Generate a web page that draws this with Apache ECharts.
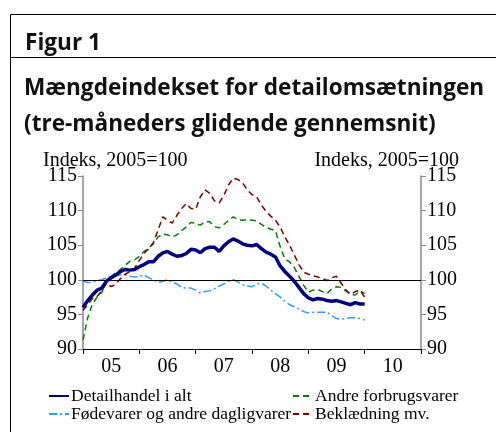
<!DOCTYPE html>
<html>
<head>
    <meta charset="utf-8">
    <title>Figur 1</title>
    <script src="https://cdn.jsdelivr.net/npm/echarts@6/dist/echarts.min.js"></script>
    <style>
        html, body { margin: 0; padding: 0; background: #fff; }
        #chart { width: 496px; height: 432px; }
    </style>
</head>
<body>
    <div id="chart"></div>

    <script>
    // månedlige værdier, jan 2005 - jan 2010
    const yearLabels = ['05', '06', '07', '08', '09', '10'];
    const yTicks = [90, 95, 100, 105, 110, 115];

    const detailhandel = [
        96.0, 97.0, 97.8, 98.5, 98.8, 99.8, 100.3, 100.7, 101.2, 101.5, 101.4, 101.5,
        101.9, 102.2, 102.6, 102.6, 103.4, 103.9, 104.1, 103.7, 103.4, 103.5, 103.8, 104.4,
        104.3, 103.9, 104.5, 104.7, 104.7, 104.1, 104.9, 105.5, 105.9, 105.6, 105.2, 105.0,
        104.9, 105.1, 104.5, 104.0, 103.7, 103.3, 102.0, 101.2, 100.5, 99.8, 98.9, 98.0,
        97.4, 97.1, 97.3, 97.2, 97.0, 96.9, 97.0, 96.8, 96.6, 96.4, 96.7, 96.5,
        96.5
    ];
    const andre = [
        91.3, 94.5, 96.5, 97.5, 98.2, 99.8, 100.5, 101.0, 101.5, 102.1, 102.7, 102.9,
        103.4, 104.1, 104.6, 105.2, 106.2, 106.6, 106.5, 106.2, 106.5, 107.1, 107.6, 108.3,
        108.1, 107.9, 108.4, 108.4, 107.7, 107.5, 108.0, 108.6, 109.1, 108.7, 108.6, 108.7,
        108.6, 108.5, 108.0, 107.6, 107.3, 107.1, 104.8, 103.0, 102.6, 101.8, 100.5, 99.2,
        98.2, 98.5, 98.6, 98.3, 98.0, 98.7, 99.0, 98.9, 98.4, 97.9, 97.8, 98.4,
        98.0
    ];
    const foedevarer = [
        99.8, 99.6, 99.6, 99.9, 100.0, 100.3, 100.5, 100.6, 100.7, 100.7, 100.5, 100.4,
        100.5, 100.7, 100.3, 100.0, 99.6, 99.8, 100.0, 99.7, 99.4, 98.9, 98.8, 98.8,
        98.5, 98.1, 98.3, 98.4, 98.7, 99.1, 99.4, 99.8, 100.0, 99.7, 99.3, 99.1,
        99.0, 99.4, 99.5, 99.1, 98.5, 98.0, 97.5, 96.9, 96.4, 96.1, 95.8, 95.4,
        95.2, 95.3, 95.3, 95.3, 95.3, 94.8, 94.4, 94.3, 94.4, 94.5, 94.5, 94.4,
        94.2
    ];
    const beklaedning = [
        95.6, 96.4, 97.3, 97.6, 98.4, 99.5, 99.0, 99.4, 100.2, 100.8, 101.2, 101.7,
        102.8, 103.8, 104.5, 105.4, 107.2, 109.1, 108.6, 108.2, 109.3, 110.3, 111.0, 110.3,
        110.2, 112.0, 113.0, 112.5, 111.4, 111.1, 112.2, 113.7, 114.7, 114.5, 114.0, 113.0,
        112.3, 112.0, 110.8, 109.9, 109.2, 108.6, 107.6, 106.2, 105.0, 103.6, 102.2, 101.1,
        100.8, 100.6, 100.4, 100.2, 99.9, 100.3, 100.5, 99.5, 98.5, 97.9, 98.3, 98.5,
        97.5
    ];

    // [måned, værdi]
    function pairs(arr) {
        return arr.map((v, i) => [i, v]);
    }

    const serif = 'Liberation Serif';
    const sans = 'Open Sans';
    const headStyle = { fontFamily: sans, fontWeight: 'bold', fontSize: 22.6, color: '#111' };
    const axisText = { fontFamily: serif, fontWeight: 'normal', fontSize: 20, color: '#000' };
    const legendBase = {
        orient: 'vertical', top: 382, itemGap: 0,
        itemWidth: 20, itemHeight: 10,
        itemStyle: { opacity: 0 },
        textStyle: { fontFamily: serif, fontSize: 17.5, lineHeight: 18, color: '#000', padding: [0, 0, 0, -3] }
    };

    const chart = echarts.init(document.getElementById('chart'));

    chart.setOption({
        animation: false,
        title: [
            { text: 'Figur 1', left: 20, top: 27, textStyle: headStyle },
            { text: 'Mængdeindekset for detailomsætningen', left: 19, top: 72, textStyle: headStyle },
            { text: '(tre-måneders glidende gennemsnit)', left: 19, top: 108, textStyle: headStyle },
            { text: 'Indeks, 2005=100', left: 38, top: 146, textStyle: axisText },
            { text: 'Indeks, 2005=100', right: 32, top: 146, textStyle: axisText }
        ],
        graphic: [
            { type: 'line', shape: { x1: 10.5, y1: 14.5, x2: 496, y2: 14.5 }, style: { stroke: '#000', lineWidth: 1 } },
            { type: 'line', shape: { x1: 10.5, y1: 14.5, x2: 10.5, y2: 432 }, style: { stroke: '#000', lineWidth: 1 } },
            { type: 'line', shape: { x1: 10.5, y1: 57.5, x2: 496, y2: 57.5 }, style: { stroke: '#000', lineWidth: 1 } }
        ],
        legend: [
            Object.assign({}, legendBase, {
                data: ['Detailhandel i alt', 'Fødevarer og andre dagligvarer'], left: 43
            }),
            Object.assign({}, legendBase, {
                data: ['Andre forbrugsvarer', 'Beklædning mv.'], left: 287
            })
        ],
        grid: { left: 83, right: 75, top: 176, bottom: 83, containLabel: false },
        xAxis: [
            {
                type: 'value', min: 0, max: 72, interval: 12,
                axisLine: { lineStyle: { color: '#000', width: 1 } },
                axisTick: { length: 5, lineStyle: { color: '#000' } },
                axisLabel: { show: false },
                splitLine: { show: false }
            },
            {
                type: 'category', data: yearLabels, position: 'bottom',
                boundaryGap: true,
                axisLine: { show: false },
                axisTick: { show: false },
                axisLabel: Object.assign({ margin: 8 }, axisText)
            }
        ],
        yAxis: [
            {
                type: 'value', min: yTicks[0], max: yTicks[yTicks.length - 1], interval: 5,
                axisLine: { show: true, lineStyle: { color: '#888', width: 1.5 } },
                axisTick: { show: true, length: 5, lineStyle: { color: '#888' } },
                axisLabel: Object.assign({ margin: 6 }, axisText),
                splitLine: { show: false }
            },
            {
                type: 'value', min: yTicks[0], max: yTicks[yTicks.length - 1], interval: 5,
                position: 'right',
                axisLine: { show: true, lineStyle: { color: '#888', width: 1.5 } },
                axisTick: { show: true, length: 5, lineStyle: { color: '#888' } },
                axisLabel: Object.assign({ margin: 6 }, axisText),
                splitLine: { show: false }
            }
        ],
        series: [
            {
                name: 'Detailhandel i alt', type: 'line', data: pairs(detailhandel),
                showSymbol: false, symbol: 'none', z: 5,
                lineStyle: { color: '#000080', width: 3.5 },
                itemStyle: { color: '#000080' },
                markLine: {
                    silent: true, symbol: 'none', label: { show: false },
                    lineStyle: { color: '#000', width: 1, type: 'solid' },
                    data: [{ yAxis: 100 }]
                }
            },
            {
                name: 'Andre forbrugsvarer', type: 'line', data: pairs(andre),
                showSymbol: false, symbol: 'none', z: 3,
                lineStyle: { color: '#008000', width: 1.5, type: [6, 4] },
                itemStyle: { color: '#008000' }
            },
            {
                name: 'Fødevarer og andre dagligvarer', type: 'line', data: pairs(foedevarer),
                showSymbol: false, symbol: 'none', z: 3,
                lineStyle: { color: '#3399ff', width: 1.5, type: [8, 3, 2, 3] },
                itemStyle: { color: '#3399ff' }
            },
            {
                name: 'Beklædning mv.', type: 'line', data: pairs(beklaedning),
                showSymbol: false, symbol: 'none', z: 4,
                lineStyle: { color: '#800000', width: 1.5, type: [6, 4] },
                itemStyle: { color: '#800000' }
            }
        ]
    });
    </script>
</body>
</html>
